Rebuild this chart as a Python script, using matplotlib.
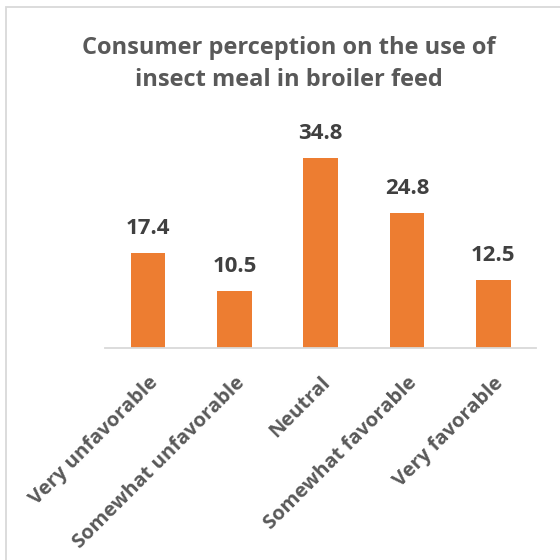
import matplotlib.pyplot as plt
from matplotlib.patches import Rectangle

categories = ["Very unfavorable", "Somewhat unfavorable", "Neutral",
              "Somewhat favorable", "Very favorable"]
values = [17.4, 10.5, 34.8, 24.8, 12.5]

plt.rcParams['font.family'] = ['Open Sans', 'DejaVu Sans']

fig = plt.figure(figsize=(5.6, 5.6), dpi=100)
ax = fig.add_axes([0.1875, 0.3786, 0.7705, 0.3893])

x = range(len(categories))
bars = ax.bar(x, values, width=0.4, color='#ED7D31', zorder=2)
ax.set_xlim(-0.5, len(categories) - 0.5)
ax.set_ylim(0, 40)

for b, v in zip(bars, values):
    ax.annotate(f"{v}", (b.get_x() + b.get_width() / 2, v),
                xytext=(0, 10), textcoords='offset points',
                ha='center', va='bottom', fontsize=16, fontweight='bold',
                color='#404040')

ax.set_xticks(list(x))
ax.set_xticklabels(categories, rotation=45, ha='right', rotation_mode='anchor',
                   fontsize=14.5, fontweight='bold', color='#595959')
ax.tick_params(axis='x', length=0, pad=18)
ax.set_yticks([])
for side in ['top', 'right', 'left']:
    ax.spines[side].set_visible(False)
ax.spines['bottom'].set_color('#D9D9D9')
ax.spines['bottom'].set_linewidth(1.3)

fig.text(0.515, 0.886, "Consumer perception on the use of\ninsect meal in broiler feed",
         ha='center', va='center', fontsize=17, fontweight='bold',
         color='#595959', linespacing=1.45)

# chart frame
fig.patches.append(Rectangle((6 / 560, -0.1), 1.2, 1 - 7 / 560 + 0.1,
                             transform=fig.transFigure, fill=False,
                             edgecolor='#D9D9D9', linewidth=1.3))

fig.savefig('out.png', dpi=100, facecolor='white')
